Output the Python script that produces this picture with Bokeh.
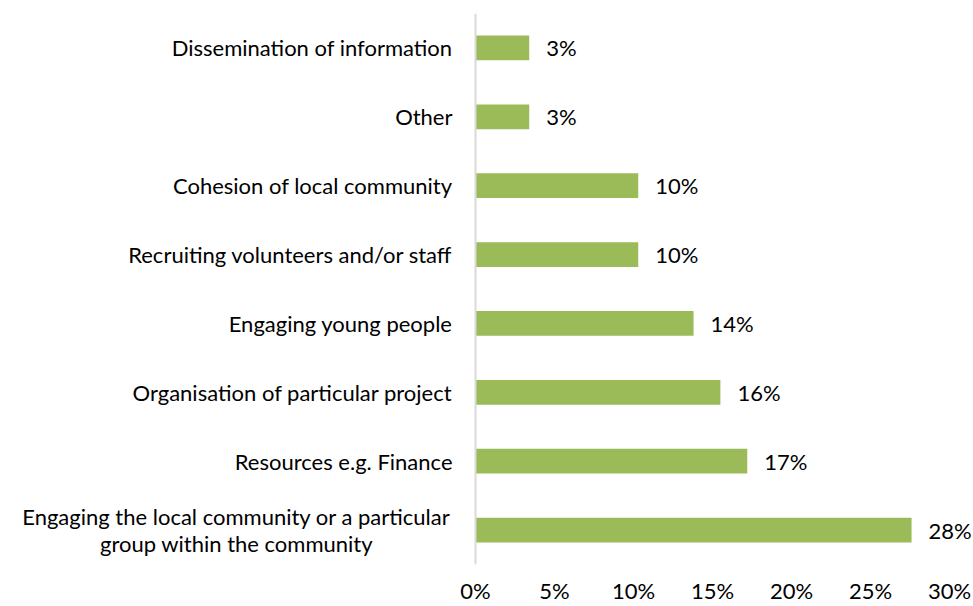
from bokeh.plotting import figure
from bokeh.models import ColumnDataSource, LabelSet, NumeralTickFormatter, FixedTicker, FactorRange, Span
from bokeh.core.properties import value
from bokeh.embed import file_html
from bokeh.resources import INLINE

# Categories listed top to bottom as in the chart
categories = [
    "Dissemination of information",
    "Other",
    "Cohesion of local community",
    "Recruiting volunteers and/or staff",
    "Engaging young people",
    "Organisation of particular project",
    "Resources e.g. Finance",
    "Engaging the local community or a particular\ngroup within the community",
]
values = [0.034, 0.034, 0.103, 0.103, 0.138, 0.155, 0.172, 0.276]
value_labels = ["3%", "3%", "10%", "10%", "14%", "16%", "17%", "28%"]
x_ticks = [0.0, 0.05, 0.10, 0.15, 0.20, 0.25, 0.30]

FONT = "Lato"
FS = "22px"
TXT = "#000000"

# layout (pixels)
W, H = 973, 606
ZERO_PX = 475          # where 0% sits
PX_PER_PCT = 15.8      # pixels per percentage point
x_start = -ZERO_PX / PX_PER_PCT / 100
x_end = (W - ZERO_PX) / PX_PER_PCT / 100
LINE_PX = 27           # spacing of wrapped label lines

source = ColumnDataSource(data=dict(cat=categories, val=values, lab=value_labels))

# category labels, one entry per text line: single-line labels right-aligned,
# wrapped labels centred line by line
rows = dict(cat=[], line=[], zero=[], align=[], xoff=[], yoff=[])
for c in categories:
    lines = c.split("\n")
    n = len(lines)
    for i, ln in enumerate(lines):
        rows["cat"].append(c)
        rows["line"].append(ln)
        rows["zero"].append(0.0)
        rows["align"].append("right" if n == 1 else "center")
        rows["xoff"].append(-23 if n == 1 else -239)
        rows["yoff"].append(((n - 1) / 2 - i) * LINE_PX)
cat_source = ColumnDataSource(data=rows)

p = figure(
    width=W, height=H,
    y_range=FactorRange(*list(reversed(categories)), range_padding=0),
    x_range=(x_start, x_end),
    output_backend="svg", toolbar_location=None,
    min_border_left=0, min_border_right=0, min_border_top=13, min_border_bottom=39,
)
p.outline_line_color = None
p.background_fill_color = "white"
p.border_fill_color = "white"

p.hbar(y="cat", right="val", left=0, height=0.36, source=source,
       fill_color="#9BBB59", line_color=None)

# vertical category axis line at 0%
p.add_layout(Span(location=0, dimension="height", line_color="#D9D9D9", line_width=2))

labels = LabelSet(x="val", y="cat", text="lab", source=source, x_offset=17,
                  text_baseline="middle", text_align="left",
                  text_font=value(FONT), text_font_size=FS, text_color=TXT)
p.add_layout(labels)

cat_labels = LabelSet(x="zero", y="cat", text="line", source=cat_source,
                      x_offset="xoff", y_offset="yoff",
                      text_baseline="middle", text_align="align",
                      text_font=value(FONT), text_font_size=FS, text_color=TXT)
p.add_layout(cat_labels)

p.xgrid.visible = False
p.ygrid.visible = False
p.yaxis.visible = False

xa = p.xaxis[0]
xa.ticker = FixedTicker(ticks=x_ticks)
xa.formatter = NumeralTickFormatter(format="0%")
xa.axis_line_color = None
xa.major_tick_line_color = None
xa.minor_tick_line_color = None
xa.major_tick_out = 0
xa.major_tick_in = 0
xa.major_label_standoff = 12
xa.major_label_text_font = FONT
xa.major_label_text_font_size = FS
xa.major_label_text_color = TXT

open("out.html", "w").write(file_html(p, INLINE))
